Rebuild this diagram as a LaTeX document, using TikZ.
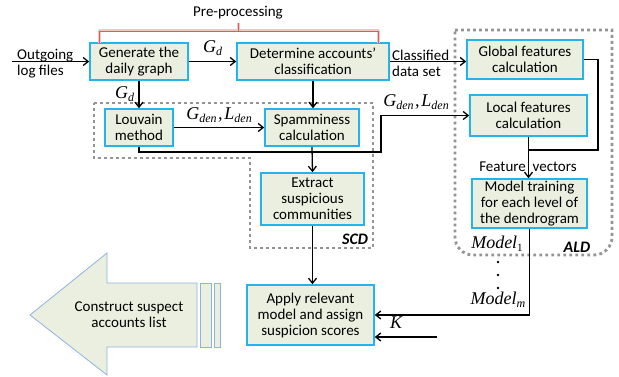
\documentclass[tikz,border=0pt]{standalone}
\usepackage{fontspec}
\setmainfont{Carlito}
\newfontfamily\tnr{Liberation Serif}
\usetikzlibrary{arrows.meta}
\definecolor{boxfill}{HTML}{EBEFDF}
\definecolor{boxline}{HTML}{22B4EA}
\definecolor{dotgray}{HTML}{949494}
\definecolor{bigline}{HTML}{8DB3E2}
\definecolor{brred}{HTML}{E05A5A}
\newcommand\ml[2]{{\tnr\itshape\fontsize{18}{18}\selectfont #1\raisebox{-3pt}{\fontsize{12}{12}\selectfont #2}}}
\newcommand\mlu[2]{{\tnr\itshape\fontsize{18}{18}\selectfont #1\raisebox{-3pt}{\upshape\fontsize{11}{11}\selectfont #2}}}
\tikzset{
  box/.style={draw=boxline, fill=boxfill, line width=1.6pt, align=center, inner sep=1pt,
    font=\fontsize{15}{16}\selectfont},
  conn/.style={line width=1.3pt, draw=black},
  arr/.style={conn, -{Straight Barb[length=5pt,width=8pt,line width=1.3pt]}},
  dotbox/.style={draw=dotgray, line width=2.8pt, dash pattern=on 2.8pt off 3.2pt},
  lbl/.style={font=\fontsize{15}{16}\selectfont, inner sep=0pt},
  sidelbl/.style={font=\fontsize{15}{16.5}\selectfont, inner sep=0pt, align=left, anchor=west},
  boldlbl/.style={font=\fontsize{16}{16}\selectfont\bfseries\itshape, inner sep=0pt}
}
\begin{document}
\begin{tikzpicture}[x=1pt, y=-1pt]
\useasboundingbox (0,0) rectangle (619,377);

% dotted regions
\draw[dotbox] (94,103) -- (373,103) -- (373,248) -- (250,248) -- (250,158) -- (94,158) -- cycle;
\draw[dotbox] (455,30) -- (612,30) -- (612,237) arc[start angle=0,end angle=90,radius=18]
  -- (473,255) arc[start angle=90,end angle=180,radius=18] -- cycle;
\node[boldlbl] (scd) at (355,239) {SCD};
\node[boldlbl] (ald) at (577,247) {ALD};

% boxes
\node[box, minimum width=98, minimum height=37] (gen) at (139,61.5) {Generate the\\daily graph};
\node[box, minimum width=152, minimum height=37] (det) at (313,61.5) {Determine accounts’\\classification};
\node[box, minimum width=116, minimum height=39] (glob) at (525,59.5) {Global features\\calculation};
\node[box, minimum width=68, minimum height=37] (louv) at (139,127.5) {Louvain\\method};
\node[box, minimum width=94, minimum height=37] (spam) at (312,127.5) {Spamminess\\calculation};
\node[box, minimum width=117, minimum height=41] (local) at (528.5,115.5) {Local features\\calculation};
\node[box, minimum width=103, minimum height=52] (extr) at (312.5,199) {Extract\\suspicious\\communities};
\node[box, minimum width=115, minimum height=49] (model) at (529.5,203.5) {Model training\\for each level of\\the dendrogram};
\node[box, minimum width=127, minimum height=60] (apply) at (310.5,315) {Apply relevant\\model and assign\\suspicion scores};

% pre-processing bracket
\draw[brred!35, line width=3pt, line join=round] (99,43) -- (99,31) -- (378,31) -- (378,43);
\draw[brred!35, line width=3pt] (238,31) -- (238,23);
\draw[brred, line width=0.9pt] (99,43) -- (99,31) -- (378,31) -- (378,43);
\draw[brred, line width=0.9pt] (238,31) -- (238,23);
\node[lbl] (pre) at (238,13) {Pre-processing};

% input
\coordinate (inp) at (12,61.5);
\node[sidelbl] (outg) at (17,63.5) {Outgoing\\log files};
\draw[arr] (inp) -- (gen.west);

% main connectors
\draw[arr] (gen.east) -- (det.west) node[midway, above=2pt] {\ml{G}{d}};
\draw[arr] (det.east) -- (det.east -| glob.west);
\node[sidelbl] (cds) at (392,63.5) {Classified\\data set};
\draw[arr] (gen.south) -- (louv.north) node[midway, left=1pt] {\ml{G}{d}};
\draw[arr] (det.south) -- (det.south |- spam.north);
\draw[arr] (louv.east) -- (spam.west) node[midway, above=1pt] {\ml{G}{den}\,\ml{,}{}\,\ml{L}{den}};
\coordinate (j1) at (381,152);
\draw[arr] (louv.south) |- (j1) |- (local.west);
\node (gl2) at (416,102) {\ml{G}{den}\,\ml{,}{}\,\ml{L}{den}};
\draw[arr] (spam.south) -- (extr.north);
\draw[arr] (extr.south) -- (extr.south |- apply.north);

% ALD connectors
\coordinate (j2) at (598,150);
\draw[conn] (glob.east) -| (j2) -- (j2 -| local.south);
\draw[arr] (local.south) -- (local.south |- model.north);
\node[lbl] (fv) at (528,167) {Feature\ \ vectors};
\draw[arr] (model.south) |- (apply.east);
\node (m1) at (497,244) {\mlu{Model}{1}};
\node (mm) at (498,300) {\ml{Model}{m}};
\fill (498,262) circle (1.3) (498,275) circle (1.3) (498,288) circle (1.3);
\coordinate (kin) at (437,337);
\draw[arr] (kin) -- (kin -| apply.east);
\node (k) at (396,324) {\ml{K}{}};

% big arrow
\draw[draw=bigline, fill=boxfill, line width=0.8pt]
  (30,315) -- (107,253) -- (107,283) -- (197,283) -- (197,347) -- (107,347) -- (107,375) -- cycle;
\draw[draw=bigline, fill=boxfill, line width=0.8pt] (200,283) rectangle (211,347);
\draw[draw=bigline, fill=boxfill, line width=0.8pt] (214,283) rectangle (220,347);
\node[lbl, align=center] (cons) at (129,315) {Construct suspect\\accounts list};
\end{tikzpicture}
\end{document}
